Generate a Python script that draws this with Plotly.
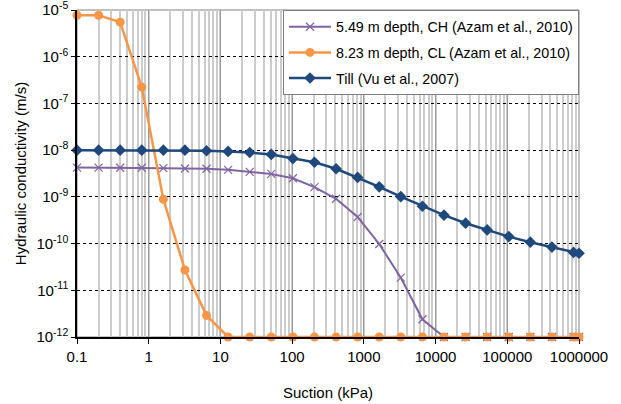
import plotly.graph_objects as go

suction = [0.1, 0.2, 0.4, 0.8, 1.6, 3.2, 6.4, 12.8, 25.6, 51.2, 102.4, 204.8,
           409.6, 819.2, 1638.4, 3276.8, 6553.6, 13107.2, 26214.4, 52428.8,
           104857.6, 209715.2, 419430.4, 838860.8, 1000000]

k_ch = [4.23e-9, 4.23e-9, 4.2e-9, 4.2e-9, 4.11e-9, 4.05e-9, 4.0e-9, 3.79e-9,
        3.43e-9, 3.1e-9, 2.5e-9, 1.61e-9, 9.1e-10, 3.7e-10, 9.8e-11, 1.86e-11,
        2.4e-12, 1e-12, 1e-12, 1e-12, 1e-12, 1e-12, 1e-12, 1e-12, 1e-12]

k_cl = [7.7e-6, 7.7e-6, 5.5e-6, 2.24e-7, 8.9e-10, 2.72e-11, 2.9e-12, 1e-12,
        1e-12, 1e-12, 1e-12, 1e-12, 1e-12, 1e-12, 1e-12, 1e-12, 1e-12, 1e-12,
        1e-12, 1e-12, 1e-12, 1e-12, 1e-12, 1e-12, 1e-12]

k_till = [1e-8, 1e-8, 1e-8, 1e-8, 1e-8, 1e-8, 9.7e-9, 9.4e-9, 8.9e-9, 8.1e-9,
          6.6e-9, 5.5e-9, 4.0e-9, 2.6e-9, 1.64e-9, 1.01e-9, 6.3e-10, 4.05e-10,
          2.73e-10, 1.96e-10, 1.41e-10, 1.07e-10, 8.4e-11, 6.45e-11, 6.2e-11]

names = ["5.49 m depth, CH (Azam et al., 2010)",
         "8.23 m depth, CL (Azam et al., 2010)",
         "Till (Vu et al., 2007)"]

x_tickvals = [0.1, 1, 10, 100, 1000, 10000, 100000, 1000000]
x_ticktext = ["0.1", "1", "10", "100", "1000", "10000", "100000", "1000000"]
y_tickvals = [1e-12, 1e-11, 1e-10, 1e-9, 1e-8, 1e-7, 1e-6, 1e-5]
y_ticktext = ["10<sup>-12</sup>", "10<sup>-11</sup>", "10<sup>-10</sup>",
              "10<sup>-9</sup>", "10<sup>-8</sup>", "10<sup>-7</sup>",
              "10<sup>-6</sup>", "10<sup>-5</sup>"]

FONT = "Liberation Sans, Arial, sans-serif"

fig = go.Figure()
fig.add_trace(go.Scatter(
    x=suction, y=k_ch, name=names[0], mode="lines+markers",
    line=dict(color="#8064A2", width=2),
    marker=dict(symbol="x-thin", size=8, line=dict(color="#8064A2", width=1.2)),
    cliponaxis=False, legendgroup="a"))
fig.add_trace(go.Scatter(
    x=suction, y=k_cl, name=names[1], mode="lines+markers",
    line=dict(color="#F79646", width=2.5),
    marker=dict(symbol="circle", size=9, color="#F79646"),
    cliponaxis=False, legendgroup="b"))
fig.add_trace(go.Scatter(
    x=suction, y=k_till, name=names[2], mode="lines+markers",
    line=dict(color="#1F497D", width=2.5),
    marker=dict(symbol="diamond", size=9, color="#1F497D"),
    cliponaxis=False, legendgroup="c"))

fig.update_layout(
    width=621, height=404,
    margin=dict(l=77, r=42, t=10, b=67, autoexpand=False),
    paper_bgcolor="white", plot_bgcolor="white",
    font=dict(family=FONT, size=15, color="black"),
    showlegend=True,
    legend=dict(x=1, xanchor="right", y=1, yanchor="top",
                bgcolor="white", bordercolor="#7f7f7f", borderwidth=1,
                font=dict(size=14.3), tracegroupgap=4, itemwidth=42),
    shapes=[dict(type="rect", xref="paper", yref="paper", x0=0, x1=1, y0=0, y1=1,
                 line=dict(color="#808080", width=1), layer="below")],
)

fig.update_xaxes(
    type="log", range=[-1, 6], automargin=False,
    tickvals=x_tickvals, ticktext=x_ticktext,
    showgrid=True, gridcolor="#999999", gridwidth=1,
    minor=dict(dtick="D1", showgrid=True, gridcolor="#cccccc", gridwidth=1.5,
               ticks=""),
    showline=True, linecolor="black", linewidth=1.5,
    ticks="outside", ticklen=5, tickcolor="black",
    tickfont=dict(size=15),
    title=dict(text="Suction (kPa)", font=dict(size=15), standoff=24),
    zeroline=False,
)
fig.update_yaxes(
    type="log", range=[-12, -5], automargin=False,
    tickvals=y_tickvals, ticktext=y_ticktext, ticklabeloverflow="allow",
    showgrid=True, gridcolor="black", gridwidth=1, griddash="dot",
    showline=True, linecolor="black", linewidth=1.5,
    ticks="outside", ticklen=4, tickcolor="black",
    tickfont=dict(size=15),
    title=dict(text="Hydraulic conductivity (m/s)", font=dict(size=15), standoff=6),
    zeroline=False,
)

fig.write_html("out.html", config={"displayModeBar": False},
               post_script="document.body.style.margin='0px';")
